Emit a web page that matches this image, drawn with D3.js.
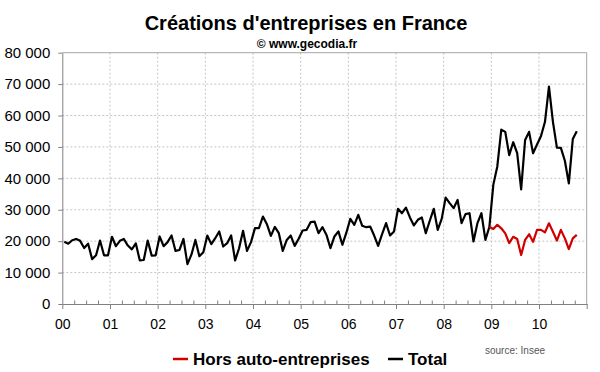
<!DOCTYPE html>
<html>
<head>
<meta charset="utf-8">
<script src="https://cdn.jsdelivr.net/npm/d3@7"></script>
<style>
  body { margin: 0; background: #fff; }
  svg { font-family: Arial, "Liberation Sans", sans-serif; }
  .grid line { stroke: #c4c4c4; stroke-dasharray: 2,2; }
  .axis path, .axis line { stroke: #808080; }
  .axis text { fill: #000; }
</style>
</head>
<body>
<script>
// monthly values, Jan 2000 -> Oct 2010
var total = [
  19800, 19200, 20300, 20700, 20100, 17800, 19200, 14300, 15500, 20200, 15500, 15500,
  21400, 18400, 20100, 20700, 18600, 17400, 19300, 13900, 14000, 20200, 15400, 15500,
  21500, 18400, 19700, 21800, 16900, 17200, 20700, 12700, 15700, 20400, 15200, 16500,
  21800, 19050, 20950, 23100, 18300, 19350, 21800, 13850, 17750, 23300, 16900, 19700,
  24150, 24150, 27850, 25400, 21700, 24550, 22550, 16900, 20400, 21800, 18500, 20750,
  23400, 23600, 26050, 26250, 22550, 24450, 22000, 17750, 21500, 23100, 18850, 22700,
  27100, 25200, 28400, 24900, 24450, 24650, 21800, 18500, 22250, 25750, 21800, 23100,
  30300, 28900, 30700, 27550, 25000, 26800, 27550, 22550, 26500, 30300, 23600, 27100,
  33900, 32100, 30500, 33150, 25750, 28600, 28900, 19900, 25750, 28900, 20400, 24500,
  38000, 43800, 55500, 54800, 47400, 51500, 48000, 36500, 52200, 54800, 48000, 50800,
  53500, 58000, 69200, 58000, 49800, 49700, 45600, 38400, 52500, 55000
];

// Dec 2008 -> Oct 2010
var horsAuto = [
  24500,
  23900, 25200, 24100, 22500, 19400, 21400, 20700, 15600, 20400, 22200, 19800, 23600,
  23600, 22800, 25700, 23000, 20200, 23600, 20900, 17500, 20900, 22000
];
var horsAutoStart = 107;

var yearLabels = ["00", "01", "02", "03", "04", "05", "06", "07", "08", "09", "10"];
var yTicks = [0, 10000, 20000, 30000, 40000, 50000, 60000, 70000, 80000];

var chartWidth = 600;
var chartHeight = 372;
var margin = {top: 52.7, right: 13.3, bottom: 68, left: 62.3};
var width = chartWidth - margin.left - margin.right;
var height = chartHeight - margin.top - margin.bottom;

var fr = d3.formatLocale({decimal: ",", thousands: " ", grouping: [3], currency: ["", " €"]});

var xScale = d3.scaleLinear()
               .domain([2000, 2011])
               .range([0, width]);

var yScale = d3.scaleLinear()
               .domain([0, 80000])
               .range([height, 0]);

function monthX(i) {
  return xScale(2000 + (i + 0.5) / 12);
}

var svg = d3.select("body")
            .append("svg")
            .attr("width", chartWidth)
            .attr("height", chartHeight);

svg.append("text")
   .attr("x", 306)
   .attr("y", 30)
   .attr("text-anchor", "middle")
   .style("font-size", "20px")
   .style("font-weight", "bold")
   .text("Créations d'entreprises en France");

svg.append("text")
   .attr("x", 307)
   .attr("y", 48)
   .attr("text-anchor", "middle")
   .style("font-size", "12px")
   .style("font-weight", "bold")
   .text("© www.gecodia.fr");

var chartGroup = svg.append("g")
                    .attr("transform", "translate(" + margin.left + "," + margin.top + ")");

// grid
chartGroup.append("g")
          .attr("class", "grid")
          .selectAll("line")
          .data(yTicks.slice(1, -1))
          .enter()
          .append("line")
          .attr("x1", 0)
          .attr("x2", width)
          .attr("y1", function(d) { return yScale(d); })
          .attr("y2", function(d) { return yScale(d); });

chartGroup.append("g")
          .attr("class", "grid")
          .selectAll("line")
          .data(d3.range(2001, 2011))
          .enter()
          .append("line")
          .attr("x1", function(d) { return xScale(d); })
          .attr("x2", function(d) { return xScale(d); })
          .attr("y1", 0)
          .attr("y2", height);

// frame top + right
chartGroup.append("path")
          .attr("d", "M0,0H" + width + "V" + height)
          .attr("fill", "none")
          .attr("stroke", "#a6a6a6");

// axes
chartGroup.append("g")
          .attr("class", "axis")
          .call(d3.axisLeft(yScale)
                  .tickValues(yTicks)
                  .tickSizeInner(4)
                  .tickSizeOuter(0)
                  .tickPadding(8)
                  .tickFormat(fr.format(",")))
          .selectAll("text")
          .style("font-size", "15px");

var quarters = d3.range(2000, 2011, 0.25).filter(function(d) { return d % 1 !== 0; });

chartGroup.append("g")
          .attr("class", "axis")
          .attr("transform", "translate(0," + height + ")")
          .call(d3.axisBottom(xScale)
                  .tickValues(quarters)
                  .tickSizeInner(-3.5)
                  .tickSizeOuter(0)
                  .tickFormat(""));

chartGroup.append("g")
          .attr("class", "axis")
          .attr("transform", "translate(0," + height + ")")
          .call(d3.axisBottom(xScale)
                  .tickValues(d3.range(2000, 2012))
                  .tickSizeInner(5)
                  .tickSizeOuter(0)
                  .tickPadding(10)
                  .tickFormat(function(d, i) { return yearLabels[i] || ""; }))
          .selectAll("text")
          .style("font-size", "14px");

// lines
var line = d3.line()
             .x(function(d) { return monthX(d.i); })
             .y(function(d) { return yScale(d.v); });

chartGroup.append("path")
          .datum(total.map(function(v, i) { return {i: i, v: v}; }))
          .attr("fill", "none")
          .attr("stroke", "#000")
          .attr("stroke-width", 2.2)
          .attr("stroke-linejoin", "round")
          .attr("d", line);

chartGroup.append("path")
          .datum(horsAuto.map(function(v, i) { return {i: i + horsAutoStart, v: v}; }))
          .attr("fill", "none")
          .attr("stroke", "#d00000")
          .attr("stroke-width", 2.2)
          .attr("stroke-linejoin", "round")
          .attr("d", line);

// legend
var legend = svg.append("g")
                .style("font-size", "17px")
                .style("font-weight", "bold");

legend.append("line")
      .attr("x1", 173).attr("x2", 188)
      .attr("y1", 359).attr("y2", 359)
      .attr("stroke", "#d00000")
      .attr("stroke-width", 2.5);

legend.append("text")
      .attr("x", 193)
      .attr("y", 365)
      .text("Hors auto-entreprises");

legend.append("line")
      .attr("x1", 388).attr("x2", 403)
      .attr("y1", 359).attr("y2", 359)
      .attr("stroke", "#000")
      .attr("stroke-width", 2.5);

legend.append("text")
      .attr("x", 408)
      .attr("y", 365)
      .text("Total");

svg.append("text")
   .attr("x", 485)
   .attr("y", 354)
   .style("font-size", "10px")
   .style("fill", "#555")
   .text("source: Insee");
</script>
</body>
</html>
